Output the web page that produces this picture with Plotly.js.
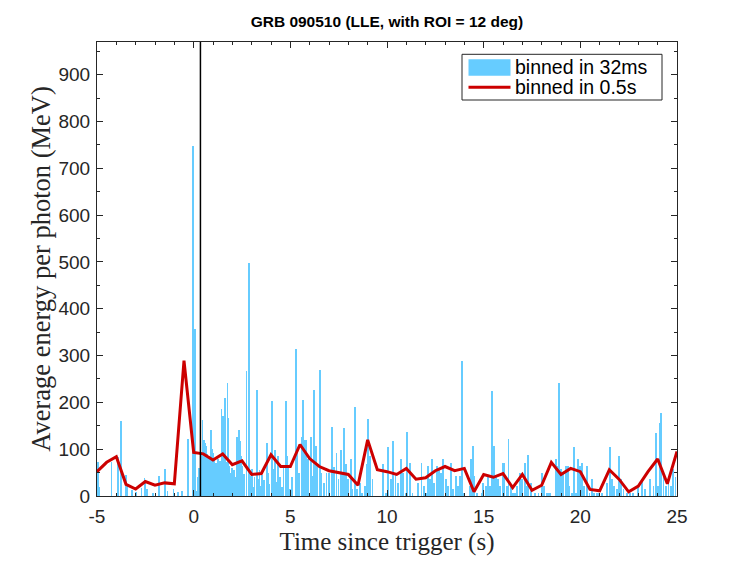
<!DOCTYPE html>
<html>
<head>
<meta charset="utf-8">
<script src="https://cdn.plot.ly/plotly-3.0.1.min.js"></script>
<style>html,body{margin:0;padding:0;background:#fff;}#chart{width:747px;height:561px;}</style>
</head>
<body>
<div id="chart"></div>
<script>
// 32 ms bins: bin time (s) and average energy per photon (MeV)
var barTimes = [
-4.95,-4.92,-4.88,-4.25,-3.90,-3.74,-3.50,-3.43,-3.20,-3.00,-2.70,-2.55,-2.50,-2.40,-2.10,-1.80,-1.50,-1.35,-1.05,-0.80,-0.60,-0.29,-0.03,0.06,0.13,0.20,0.27,
0.38,0.42,0.455,0.49,0.52,0.55,0.58,0.62,0.65,0.68,0.72,0.75,0.78,0.82,0.885,0.92,0.95,0.98,1.02,1.05,1.08,1.12,1.15,1.20,1.25,1.30,1.35,1.44,1.48,1.52,1.56,1.61,1.66,1.75,1.80,1.85,1.90,1.95,2.00,2.05,2.10,2.15,2.25,2.33,2.38,2.43,2.50,2.55,2.60,2.73,2.85,2.90,2.95,3.02,3.10,3.15,3.28,3.33,3.40,3.45,3.52,3.60,3.65,3.80,3.85,3.90,4.04,4.10,4.20,4.25,4.35,4.45,4.55,4.65,4.77,4.82,4.90,5.00,5.10,5.28,5.35,5.45,5.58,
5.66,5.75,5.80,5.92,6.05,6.15,6.22,6.32,6.41,6.53,6.61,6.73,6.87,7.01,7.15,7.25,7.39,7.49,7.61,7.70,7.79,7.87,7.99,8.13,8.22,8.34,8.46,8.60,8.72,8.86,8.94,9.01,9.11,9.25,9.80,9.94,10.06,10.19,10.32,10.44,10.58,10.72,10.84,10.96,11.05,11.19,11.32,11.61,
11.79,11.91,12.01,12.13,12.22,12.34,12.44,12.57,12.69,12.79,12.91,13.05,13.17,13.31,13.43,13.57,13.69,13.77,13.89,14.00,14.29,14.34,14.43,14.51,14.64,14.90,14.98,15.12,15.24,15.33,15.43,15.53,15.64,15.76,15.84,15.98,16.07,16.19,16.29,16.40,16.50,16.62,16.74,16.88,16.98,17.12,17.23,17.31,17.45,17.66,17.83,18.00,18.12,18.26,18.38,
18.43,18.73,18.81,18.90,19.00,19.12,19.24,19.35,19.43,19.55,19.69,19.78,19.86,19.97,20.07,20.19,20.33,20.47,20.59,20.71,20.85,20.98,21.11,21.37,21.54,21.63,21.76,21.88,21.99,22.11,22.23,22.40,22.57,22.74,23.00,23.18,23.35,23.61,23.78,23.90,24.00,24.09,24.18,24.30,24.42,24.56,24.69,24.81,24.92
];
var barValues = [
72,50,20,72,84,161,44,23,12,8,18,39,30,14,6,42,57,10,14,8,10,121,748,356,10,41,60,
75,95,162,88,120,70,113,80,106,65,90,72,85,60,140,78,100,66,92,70,78,55,71,62,80,58,75,185,70,171,60,209,72,241,166,64,50,43,60,35,55,40,127,142,117,85,64,30,48,268,498,30,43,57,20,40,226,36,55,21,45,15,35,113,50,25,203,57,99,30,85,40,20,60,204,85,64,14,40,315,99,50,127,
206,120,120,78,127,43,226,106,64,270,50,28,50,50,148,61,92,36,98,50,145,68,36,78,14,190,14,28,7,21,68,164,85,36,68,7,104,36,117,50,28,78,50,7,137,71,7,28,
71,21,7,64,36,78,28,64,57,50,78,36,21,71,14,43,21,43,289,7,21,78,107,43,7,7,28,21,43,21,225,107,43,36,21,71,71,21,122,21,7,7,21,50,36,71,21,88,28,7,7,50,21,7,7,
7,80,64,242,57,50,64,64,21,7,104,7,78,64,71,21,64,7,36,7,7,7,7,28,104,36,21,14,86,36,14,7,7,7,21,36,14,36,21,134,21,155,177,50,21,28,21,57,40
];
// 0.5 s bins
var lineTimes = [-5,-4.5,-4,-3.5,-3,-2.5,-2,-1.5,-1,-0.5,0,0.5,1,1.5,2,2.5,3,3.5,4,4.5,5,5.5,6,6.5,7,7.5,8,8.5,9,9.5,10,10.5,11,11.5,12,12.5,13,13.5,14,14.5,15,15.5,16,16.5,17,17.5,18,18.5,19,19.5,20,20.5,21,21.5,22,22.5,23,23.5,24,24.5,25];
var lineValues = [52,72,84,25,15,31,23,28,26,289,93,90,77,90,67,75,46,48,88,63,63,110,80,63,54,50,46,23,120,56,52,46,59,36,39,54,63,54,59,9,46,40,48,18,46,12,23,72,46,59,52,14,11,56,36,9,21,52,79,26,95];
var triggerLine = 0.35;
var xTickVals = [-5,0,5,10,15,20,25];
var yTickVals = [0,100,200,300,400,500,600,700,800,900];
var legendLabels = ['binned in 32ms', 'binned in 0.5s'];

var barColor = '#66ccff';
var lineColor = '#cc0000';

// plot area in pixels (for placing the legend box in paper coordinates)
var W = 747, H = 561, M = {l:97, r:70, t:42, b:65};
var PW = W - M.l - M.r, PH = H - M.t - M.b;
function px(x){ return (x - M.l) / PW; }
function py(y){ return (H - M.b - y) / PH; }

var traces = [
  {type:'bar', x:barTimes, y:barValues, width:0.09, name:legendLabels[0],
   marker:{color:barColor, line:{width:0}}, hoverinfo:'skip'},
  {type:'scatter', mode:'lines', x:lineTimes, y:lineValues, name:legendLabels[1],
   line:{color:lineColor, width:3}}
];
var axisCommon = {showgrid:false, zeroline:false, showline:true, linecolor:'#262626', linewidth:1,
  mirror:'allticks', ticks:'inside', ticklen:6, tickcolor:'#262626', tickwidth:1,
  tickfont:{family:'Liberation Sans, Arial, sans-serif', size:19, color:'#262626'}};
var legendFont = {family:'Liberation Sans, Arial, sans-serif', size:19.5, color:'#000'};
var layout = {
  width:W, height:H, paper_bgcolor:'#fff', plot_bgcolor:'#fff',
  margin:M,
  bargap:0, barmode:'overlay', showlegend:false,
  title:{text:'<b>GRB 090510 (LLE, with ROI = 12 deg)</b>', x:0.518, xanchor:'center', y:0.962, yanchor:'middle',
         font:{family:'Liberation Sans, Arial, sans-serif', size:15.5, color:'#000'}},
  xaxis:Object.assign({}, axisCommon, {range:[-5,25], tickvals:xTickVals, ticktext:xTickVals.map(String),
     ticklabelstandoff:3,
     minor:{dtick:1, ticks:'inside', ticklen:3, tickcolor:'#262626'},
     title:{text:'Time since trigger (s)', standoff:6, font:{family:'Liberation Serif, Times New Roman, serif', size:25, color:'#262626'}}}),
  yaxis:Object.assign({}, axisCommon, {range:[0,970], tickvals:yTickVals, ticktext:yTickVals.map(String),
     ticklabelstandoff:2,
     minor:{dtick:50, ticks:'inside', ticklen:3, tickcolor:'#262626'},
     title:{text:'Average energy per photon (MeV)', standoff:0, font:{family:'Liberation Serif, Times New Roman, serif', size:26.5, color:'#262626'}}}),
  shapes:[
    {type:'line', xref:'x', yref:'paper', x0:triggerLine, x1:triggerLine, y0:0, y1:1, line:{color:'#000', width:1.5}},
    // legend box
    {type:'rect', xref:'paper', yref:'paper', x0:px(462), x1:px(662), y0:py(100), y1:py(54.3),
     fillcolor:'#fff', line:{color:'#262626', width:1}},
    {type:'rect', xref:'paper', yref:'paper', x0:px(468.5), x1:px(510.5), y0:py(75.7), y1:py(59.3),
     fillcolor:barColor, line:{width:0}},
    {type:'line', xref:'paper', yref:'paper', x0:px(468.5), x1:px(510.5), y0:py(87.3), y1:py(87.3),
     line:{color:lineColor, width:3}}
  ],
  annotations:[
    {xref:'paper', yref:'paper', x:px(513), y:py(67), xanchor:'left', yanchor:'middle', showarrow:false,
     text:legendLabels[0], font:legendFont},
    {xref:'paper', yref:'paper', x:px(513), y:py(87.5), xanchor:'left', yanchor:'middle', showarrow:false,
     text:legendLabels[1], font:legendFont}
  ]
};
Plotly.newPlot('chart', traces, layout, {displayModeBar:false, staticPlot:true});
</script>
</body>
</html>
